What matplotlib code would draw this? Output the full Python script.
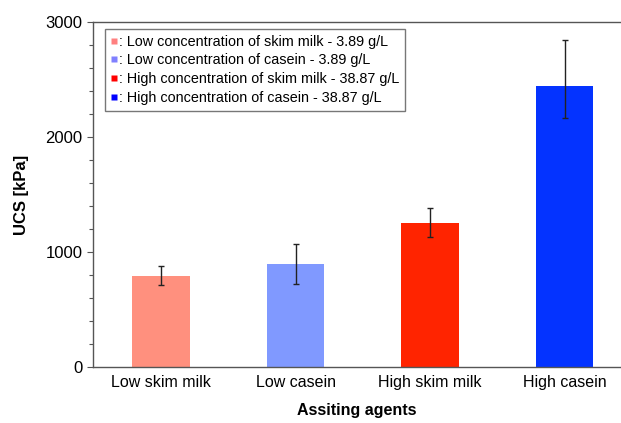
import numpy as np
import matplotlib
matplotlib.use("Agg")
from matplotlib import pyplot as plt
from matplotlib.lines import Line2D

plt.rcParams['font.family'] = ['Liberation Sans', 'DejaVu Sans']

agents = ["Low skim milk", "Low casein", "High skim milk", "High casein"]
ucs = [790, 895, 1250, 2440]
err_low = [80, 170, 122, 275]
err_high = [90, 172, 130, 405]
colors = ["#FF907E", "#8099FF", "#FF2400", "#0433FF"]
legend_colors = ["#FF8080", "#8080FF", "#FF0000", "#0000FF"]
legend_labels = [": Low concentration of skim milk - 3.89 g/L",
                 ": Low concentration of casein - 3.89 g/L",
                 ": High concentration of skim milk - 38.87 g/L",
                 ": High concentration of casein - 38.87 g/L"]

fig = plt.figure(figsize=(6.21, 4.23), dpi=100)
ax = fig.add_axes([93/621, 1 - 367/423, 1 - 93/621, 345/423])

x = np.arange(1, len(agents) + 1)
ax.bar(x, ucs, width=0.43, color=colors, edgecolor="none", zorder=2)
ax.errorbar(x, ucs, yerr=[err_low, err_high], fmt="none", ecolor="#222222",
            elinewidth=1, capsize=2.5, capthick=1, zorder=3)

ax.set_xlim(0.494, 4.42)
ax.set_ylim(0, 3000)
ax.set_xticks(x)
ax.set_xticklabels(agents, fontsize=11.5)
ax.set_yticks([0, 1000, 2000, 3000])
ax.set_yticks(np.arange(0, 3001, 200), minor=True)
ax.tick_params(axis="y", which="major", direction="out", length=4, width=0.8,
               colors="#555555", labelcolor="black", labelsize=12)
ax.tick_params(axis="y", which="minor", direction="out", length=3, width=0.8,
               colors="#555555")
ax.tick_params(axis="x", length=0, pad=6)

for s in ["left", "bottom", "top"]:
    ax.spines[s].set_color("#555555")
    ax.spines[s].set_linewidth(1)
ax.spines["right"].set_visible(False)

ax.set_xlabel("Assiting agents", fontsize=11.5, fontweight="bold", labelpad=9)
ax.set_ylabel("UCS [kPa]", fontsize=12, fontweight="bold", labelpad=12)

handles = [Line2D([], [], linestyle="none", marker="s", markersize=5,
                  markerfacecolor=c, markeredgecolor="none") for c in legend_colors]
leg = ax.legend(handles, legend_labels, loc="upper left", bbox_to_anchor=(0.022, 0.98),
                fontsize=10.4, frameon=True, fancybox=False, handlelength=0.5,
                handletextpad=0.1, labelspacing=0.33, borderpad=0.4,
                borderaxespad=0)
leg.get_frame().set_edgecolor("#555555")
leg.get_frame().set_linewidth(1)

fig.savefig("out.png", dpi=100)
